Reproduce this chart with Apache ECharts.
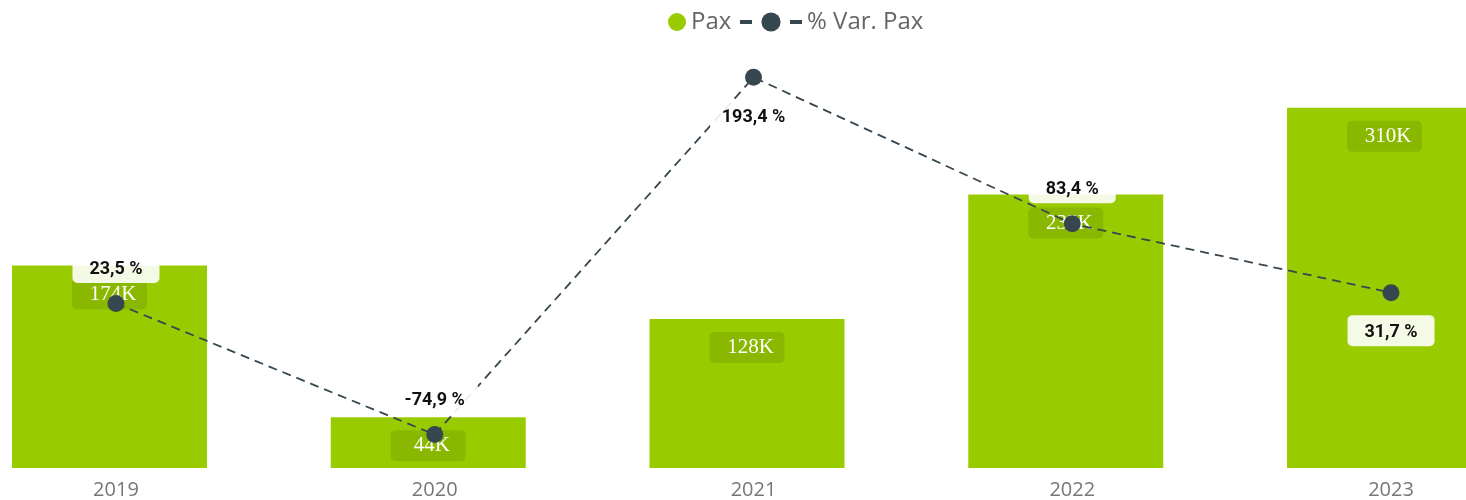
<!DOCTYPE html>
<html>
<head>
<meta charset="utf-8">
<script src="https://cdn.jsdelivr.net/npm/echarts@6/dist/echarts.min.js"></script>
<style>html,body{margin:0;padding:0;background:#fff}#c{width:1466px;height:500px}</style>
</head>
<body>
<div id="c"></div>
<script>
const categories = ['2019', '2020', '2021', '2022', '2023'];
const paxValues = [174170, 43720, 128260, 235230, 309800];
const varPaxValues = [23.5, -74.9, 193.4, 83.4, 31.7];
const seriesNames = ['Pax', '% Var. Pax'];

const chart = echarts.init(document.getElementById('c'));
const labelSide = ['top', 'top', 'bottom', 'top', 'bottom'];
const lineColor = '#37474f';
const green = '#99cc00';

chart.setOption({
  backgroundColor: '#ffffff',
  animation: false,
  legend: [
    {
      left: 663, top: 5, itemWidth: 18, itemHeight: 18,
      data: [{ name: seriesNames[0], icon: 'circle' }],
      textStyle: { fontFamily: 'Open Sans', fontSize: 24, color: '#666666' }
    },
    {
      left: 733, top: 5, itemWidth: 62, itemHeight: 24,
      data: [{ name: seriesNames[1] }],
      lineStyle: { type: [12, 38], width: 4, color: lineColor },
      textStyle: { fontFamily: 'Open Sans', fontSize: 24, color: '#666666' }
    }
  ],
  grid: [
    { left: -49.9, right: -77.9, top: 3, bottom: 32, outerBoundsMode: 'none', containLabel: false },
    { left: -43.4, right: -84.4, top: 2, bottom: 32, outerBoundsMode: 'none', containLabel: false }
  ],
  xAxis: [
    { type: 'category', gridIndex: 0, data: categories, axisLine: { show: false }, axisTick: { show: false }, axisLabel: { show: false } },
    { type: 'category', gridIndex: 1, data: categories, axisLine: { show: false }, axisTick: { show: false },
      axisLabel: { fontFamily: 'Open Sans', fontSize: 20, color: '#777777', margin: 12 } }
  ],
  yAxis: [
    { type: 'value', gridIndex: 0, min: 0, max: 400000, show: false, splitLine: { show: false } },
    { type: 'value', gridIndex: 1, min: -100, max: 250, show: false, splitLine: { show: false } }
  ],
  series: [
    {
      name: seriesNames[0], type: 'bar', xAxisIndex: 0, yAxisIndex: 0,
      data: paxValues, barWidth: 195, z: 2,
      itemStyle: { color: green },
      label: {
        show: true, position: 'insideTop', distance: 13,
        formatter: p => Math.round(p.value / 1000) + 'K',
        fontFamily: 'Liberation Serif', fontSize: 21, color: '#ffffff',
        backgroundColor: '#8ab800', borderRadius: 5,
        width: 62, height: 21, lineHeight: 21, align: 'center',
        padding: [5, 3, 5, 10]
      }
    },
    {
      name: seriesNames[1], type: 'line', xAxisIndex: 1, yAxisIndex: 1,
      z: 5,
      data: varPaxValues.map((v, i) => ({
        value: v,
        label: { position: labelSide[i], distance: labelSide[i] === 'top' ? 12 : 14 }
      })),
      symbol: 'circle', symbolSize: 17,
      itemStyle: { color: lineColor },
      lineStyle: { color: lineColor, width: 1.8, type: [9, 6] },
      label: {
        show: true,
        formatter: p => p.value.toFixed(1).replace('.', ',') + ' %',
        fontFamily: 'Roboto', fontWeight: 'bold', fontSize: 18, color: '#111111',
        backgroundColor: 'rgba(255,255,255,0.9)', borderRadius: 5,
        width: 67, height: 17, lineHeight: 17, align: 'center',
        padding: [9, 10, 5, 10]
      }
    }
  ]
});
</script>
</body>
</html>
